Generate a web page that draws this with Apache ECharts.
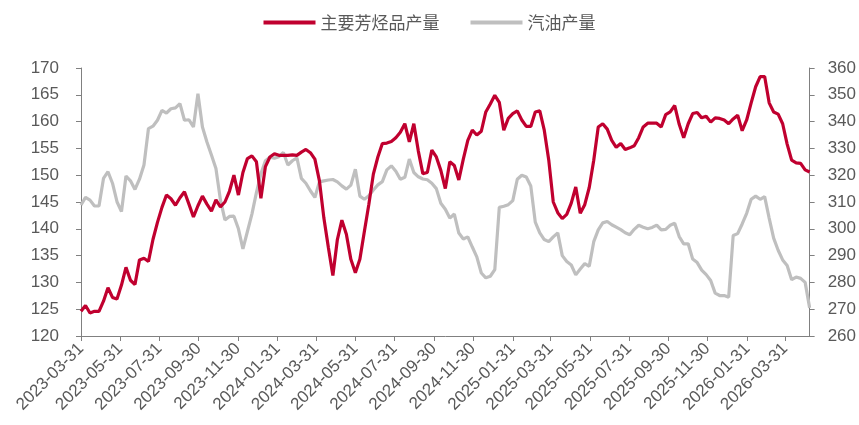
<!DOCTYPE html>
<html><head><meta charset="utf-8">
<script src="https://cdn.jsdelivr.net/npm/echarts@6/dist/echarts.min.js"></script>
<style>html,body{margin:0;padding:0;background:#fff}#c{width:859px;height:425px}</style>
</head><body><div id="c"></div>
<script>
const startDate = '2023-03-31'; // first weekly observation (Friday)
const seriesNames = ['主要芳烃品产量', '汽油产量'];
const tickLabels = ['2023-03-31','2023-05-31','2023-07-31','2023-09-30','2023-11-30',
  '2024-01-31','2024-03-31','2024-05-31','2024-07-31','2024-09-30','2024-11-30',
  '2025-01-31','2025-03-31','2025-05-31','2025-07-31','2025-09-30','2025-11-30',
  '2026-01-31','2026-03-31'];
const leftTicks = {min: 120, max: 170, interval: 5};
const rightTicks = {min: 260, max: 360, interval: 10};

const aromaticsOutput = [124.6,125.7,124.3,124.6,124.6,126.5,129.0,127.2,126.9,129.5,
132.8,130.4,129.6,134.2,134.5,133.9,138.0,141.2,144.0,146.3,
145.6,144.4,145.8,146.9,144.6,142.2,144.3,146.1,144.6,143.3,
145.4,144.1,145.0,147.0,150.0,146.3,150.5,153.1,153.6,152.5,
145.7,151.6,153.4,154.0,153.7,153.7,153.7,153.8,153.7,154.3,
154.8,154.2,153.0,149.0,142.0,136.5,131.3,138.0,141.6,139.0,
134.3,131.8,134.3,139.5,144.6,150.2,153.4,155.9,156.0,156.3,
157.0,158.0,159.6,156.2,159.6,154.5,150.3,150.5,154.7,153.4,
150.9,147.5,152.5,151.8,149.1,153.0,156.5,158.4,157.5,158.2,
161.8,163.3,164.9,163.6,158.4,160.6,161.5,162.0,160.3,159.1,
159.1,161.8,162.0,158.4,152.8,145.0,143.0,141.9,142.7,144.8,
147.8,142.9,144.5,147.7,152.8,159.0,159.6,158.6,156.5,155.2,
155.9,154.8,155.1,155.5,157.0,159.0,159.7,159.7,159.7,159.0,
161.3,161.8,163.0,159.5,157.0,159.6,161.5,161.7,160.7,161.0,
159.9,160.7,160.6,160.3,159.6,160.5,161.2,158.3,160.3,163.5,
166.5,168.4,168.4,163.5,161.8,161.4,159.6,155.8,152.8,152.3,
152.2,151.0,150.6];

const gasolineOutput = [308.9,311.7,310.7,308.5,308.5,318.8,321.3,317.0,310.1,306.4,
319.7,317.9,314.7,318.5,323.8,337.4,338.3,340.5,344.2,343.2,
344.8,345.1,346.7,340.5,340.7,338.0,350.4,338.0,332.4,327.5,
322.5,310.8,303.3,304.6,304.7,300.0,292.5,299.0,305.5,313.5,
320.5,325.4,326.7,326.3,326.9,328.5,323.8,325.4,326.5,318.8,
317.0,314.2,311.7,317.5,317.9,318.2,318.4,317.5,316.0,314.8,
316.3,322.2,312.2,311.0,312.3,314.5,316.4,317.6,322.0,323.5,
321.5,318.5,319.2,326.0,321.0,319.4,318.6,318.3,317.0,315.0,
309.5,307.3,304.0,305.5,298.4,296.2,297.0,293.2,289.5,283.5,
281.7,282.3,284.8,308.0,308.4,309.0,310.5,318.5,320.0,319.3,
316.0,302.5,298.5,296.0,295.2,297.0,298.5,290.0,287.8,286.5,
282.8,285.0,287.0,286.0,295.2,299.6,302.2,302.7,301.5,300.6,
299.7,298.5,297.8,299.8,301.3,300.6,300.0,300.5,301.4,299.6,
299.8,301.3,302.1,297.1,294.4,294.4,288.7,287.4,284.6,282.9,
280.7,276.0,275.1,275.1,274.5,297.5,298.2,301.8,305.8,311.0,
312.2,311.0,312.0,304.0,296.5,292.0,288.4,286.3,281.0,282.0,
281.5,280.0,270.5];

const DAY = 86400000;
const t0 = Date.parse(startDate);
// x position = days since the first observation (weekly data)
const weekDays = aromaticsOutput.map((_, i) => i * 7);
const tickDays = tickLabels.map(s => Math.round((Date.parse(s) - t0) / DAY));
const fmt = v => new Date(t0 + Math.round(v) * DAY).toISOString().slice(0, 10);

const FONT = "'Liberation Sans', Arial, 'Noto Sans CJK SC', sans-serif";
const TXT = '#595959';
const AX = '#808080';

const chart = echarts.init(document.getElementById('c'), null, {renderer: 'canvas'});
chart.setOption({
  animation: false,
  backgroundColor: '#fff',
  textStyle: {fontFamily: FONT},
  legend: {
    top: 9, left: 'center', itemGap: 31, itemWidth: 52, itemHeight: 4,
    icon: 'rect',
    textStyle: {color: TXT, fontSize: 17, fontFamily: "'Noto Sans CJK SC', sans-serif"},
    data: seriesNames
  },
  grid: {left: 81, right: 48, top: 68, bottom: 89, containLabel: false},
  xAxis: {
    type: 'value',
    min: 0, max: weekDays[weekDays.length - 1],
    axisLine: {lineStyle: {color: AX, width: 1}},
    axisTick: {show: true, customValues: tickDays, length: 5, lineStyle: {color: AX}},
    axisLabel: {customValues: tickDays, rotate: 45, margin: 10, color: TXT, fontSize: 17,
      fontFamily: FONT, formatter: v => fmt(v), hideOverlap: false, showMinLabel: true},
    splitLine: {show: false}
  },
  yAxis: [{
    type: 'value', min: leftTicks.min, max: leftTicks.max, interval: leftTicks.interval,
    axisLine: {show: true, lineStyle: {color: AX}},
    axisTick: {show: true, length: 5, lineStyle: {color: AX}},
    axisLabel: {color: TXT, fontSize: 17, margin: 22, fontFamily: FONT},
    splitLine: {show: false}
  }, {
    type: 'value', min: rightTicks.min, max: rightTicks.max, interval: rightTicks.interval,
    position: 'right',
    axisLine: {show: true, lineStyle: {color: AX}},
    axisTick: {show: true, length: 5, lineStyle: {color: AX}},
    axisLabel: {color: TXT, fontSize: 17, margin: 18, fontFamily: FONT},
    splitLine: {show: false}
  }],
  series: [{
    name: seriesNames[0], type: 'line', yAxisIndex: 0, showSymbol: false, symbol: 'none',
    data: weekDays.map((d, i) => [d, aromaticsOutput[i]]),
    lineStyle: {color: '#C0002F', width: 3.2}, itemStyle: {color: '#C0002F'}, z: 3
  }, {
    name: seriesNames[1], type: 'line', yAxisIndex: 1, showSymbol: false, symbol: 'none',
    data: weekDays.map((d, i) => [d, gasolineOutput[i]]),
    lineStyle: {color: '#BFBFBF', width: 3.2}, itemStyle: {color: '#BFBFBF'}, z: 2
  }]
});
</script>
</body></html>
